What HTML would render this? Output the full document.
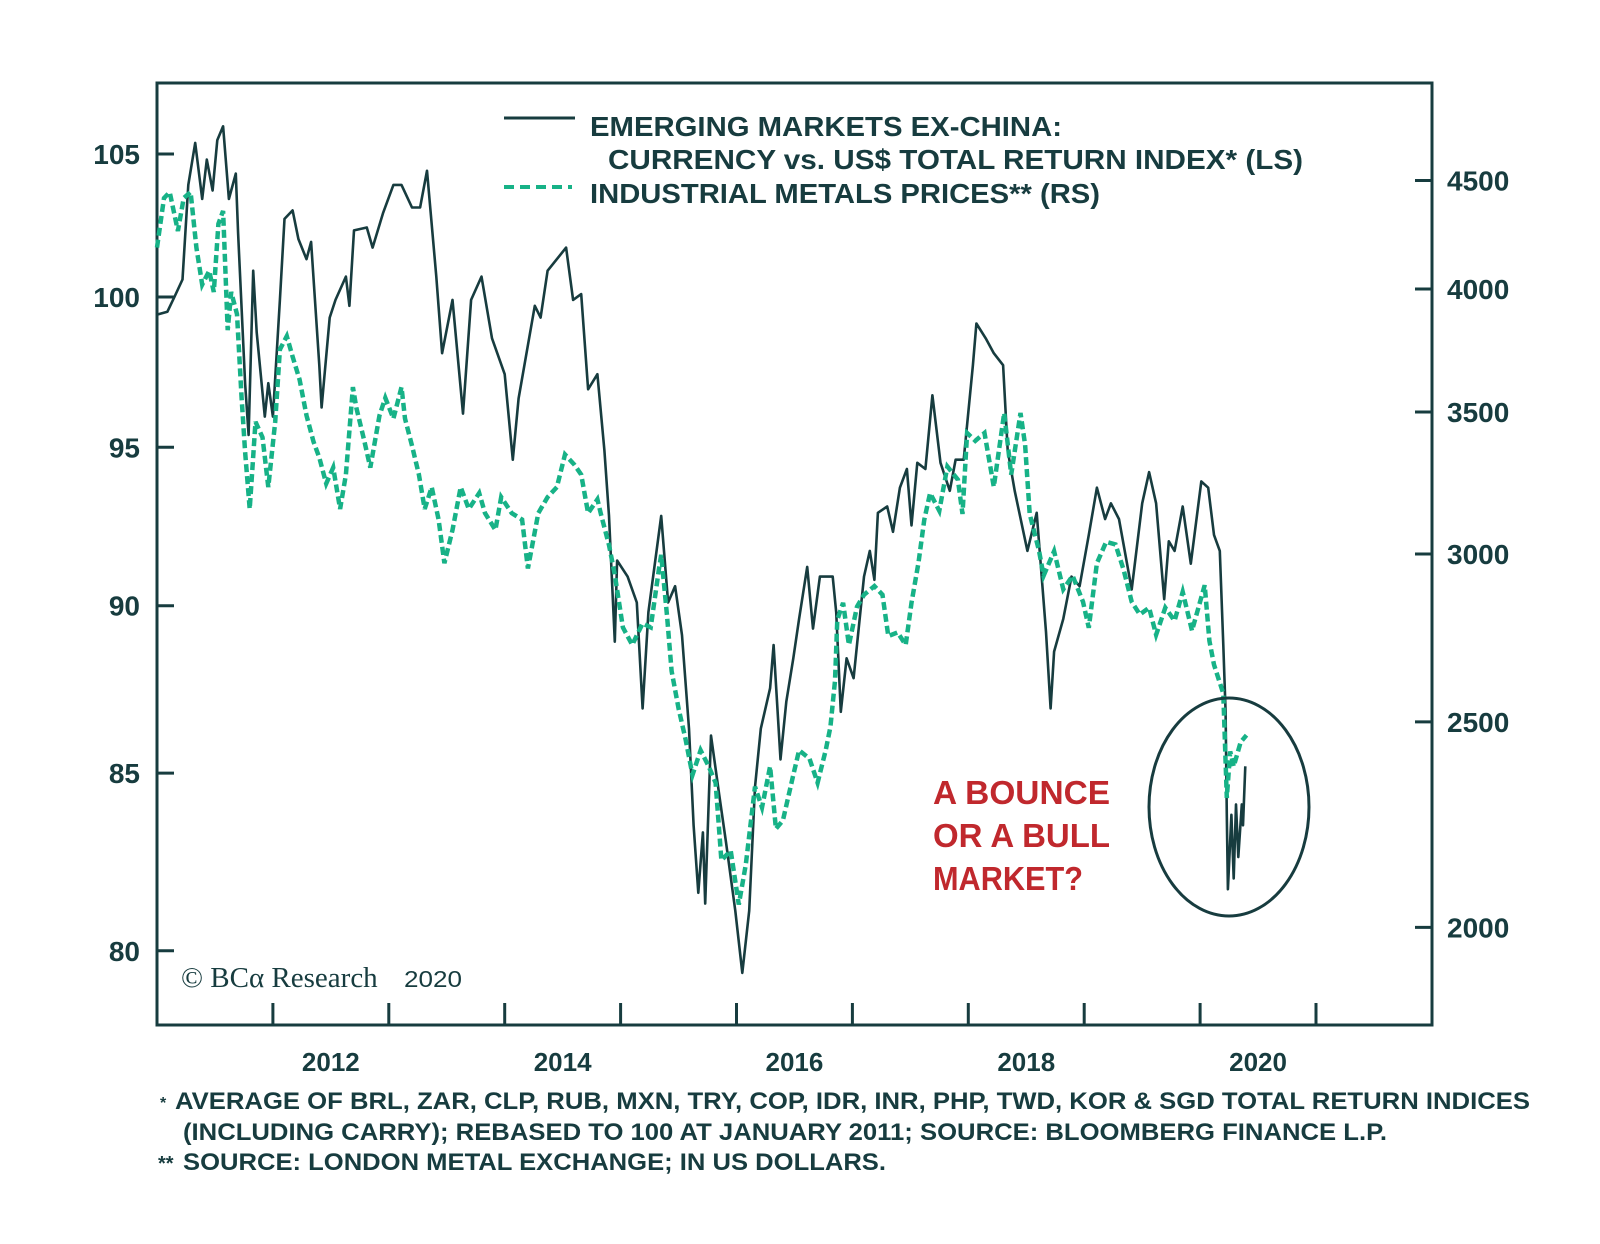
<!DOCTYPE html>
<html><head><meta charset="utf-8"><style>
html,body{margin:0;padding:0;background:#fff;width:1600px;height:1244px;overflow:hidden}
svg{display:block}
text{font-family:"Liberation Sans",sans-serif;fill:#173c3f}
</style></head><body>
<svg id="chart" width="1600" height="1244" viewBox="0 0 1600 1244" xmlns="http://www.w3.org/2000/svg">
<g id="axes"></g>
<g id="series"></g>
<g>
<line x1="504" y1="118" x2="575" y2="118" stroke="#173c3f" stroke-width="3"/>
<text x="590" y="136" font-size="28" font-weight="bold" textLength="472" lengthAdjust="spacingAndGlyphs">EMERGING MARKETS EX-CHINA:</text>
<text x="608" y="169" font-size="28" font-weight="bold" textLength="695" lengthAdjust="spacingAndGlyphs">CURRENCY vs. US$ TOTAL RETURN INDEX* (LS)</text>
<line x1="504" y1="187" x2="572" y2="187" stroke="#17b287" stroke-width="4" stroke-dasharray="10,6"/>
<text x="590" y="203" font-size="28" font-weight="bold" textLength="510" lengthAdjust="spacingAndGlyphs">INDUSTRIAL METALS PRICES** (RS)</text>
</g>
<g>
<text x="933" y="804" font-size="33" font-weight="bold" style="fill:#c0282d" textLength="177" lengthAdjust="spacingAndGlyphs">A BOUNCE</text>
<text x="933" y="847" font-size="33" font-weight="bold" style="fill:#c0282d" textLength="177" lengthAdjust="spacingAndGlyphs">OR A BULL</text>
<text x="933" y="890" font-size="33" font-weight="bold" style="fill:#c0282d" textLength="150" lengthAdjust="spacingAndGlyphs">MARKET?</text>
<ellipse cx="1229" cy="807" rx="80" ry="109" fill="none" stroke="#173c3f" stroke-width="3"/>
</g>
<g>
<text x="181" y="987" font-size="29" style="font-family:'Liberation Serif',serif">© BCα Research</text>
<text x="404" y="987" font-size="23" textLength="58" lengthAdjust="spacingAndGlyphs">2020</text>
</g>
<g font-weight="bold" font-size="24">
<text x="160" y="1108" font-size="16">*</text>
<text x="175" y="1109" font-weight="bold" font-size="24" textLength="1355" lengthAdjust="spacingAndGlyphs">AVERAGE OF BRL, ZAR, CLP, RUB, MXN, TRY, COP, IDR, INR, PHP, TWD, KOR &amp; SGD TOTAL RETURN INDICES</text>
<text x="183" y="1140" font-weight="bold" font-size="24" textLength="1204" lengthAdjust="spacingAndGlyphs">(INCLUDING CARRY); REBASED TO 100 AT JANUARY 2011; SOURCE: BLOOMBERG FINANCE L.P.</text>
<text x="158" y="1170" font-weight="bold" font-size="20">**</text>
<text x="183" y="1170" font-weight="bold" font-size="24" textLength="703" lengthAdjust="spacingAndGlyphs">SOURCE: LONDON METAL EXCHANGE; IN US DOLLARS.</text>
</g>
</svg>
<script>
const emDates=[2011.00,2011.09,2011.15,2011.22,2011.27,2011.33,2011.39,2011.43,2011.48,2011.52,2011.57,2011.62,2011.68,2011.70,2011.76,2011.79,2011.83,2011.86,2011.93,2011.96,2012.00,2012.06,2012.10,2012.17,2012.22,2012.29,2012.33,2012.40,2012.42,2012.49,2012.54,2012.63,2012.66,2012.70,2012.81,2012.86,2012.95,2013.04,2013.11,2013.20,2013.27,2013.33,2013.41,2013.46,2013.55,2013.64,2013.71,2013.80,2013.89,2014.00,2014.07,2014.12,2014.26,2014.31,2014.37,2014.53,2014.59,2014.66,2014.72,2014.80,2014.86,2014.90,2014.95,2014.97,2015.06,2015.14,2015.19,2015.24,2015.35,2015.41,2015.47,2015.53,2015.59,2015.63,2015.67,2015.71,2015.73,2015.78,2015.85,2015.91,2015.99,2016.05,2016.11,2016.16,2016.21,2016.29,2016.32,2016.38,2016.43,2016.49,2016.54,2016.61,2016.66,2016.72,2016.83,2016.86,2016.90,2016.95,2017.01,2017.10,2017.15,2017.19,2017.22,2017.30,2017.35,2017.41,2017.47,2017.51,2017.56,2017.63,2017.69,2017.76,2017.84,2017.89,2017.96,2018.04,2018.07,2018.15,2018.22,2018.30,2018.34,2018.40,2018.51,2018.59,2018.67,2018.71,2018.74,2018.82,2018.89,2018.96,2019.04,2019.11,2019.18,2019.23,2019.30,2019.41,2019.50,2019.56,2019.62,2019.69,2019.73,2019.78,2019.85,2019.92,2020.01,2020.07,2020.12,2020.17,2020.20,2020.22,2020.23,2020.24,2020.27,2020.29,2020.31,2020.33,2020.36,2020.37,2020.39];
const emValues=[99.4,99.5,100.0,100.6,103.9,105.4,103.4,104.8,103.7,105.5,106.0,103.4,104.3,102.2,97.1,95.4,100.9,98.8,96.0,97.1,96.0,99.9,102.7,103.0,102.0,101.3,101.9,97.7,96.3,99.3,99.9,100.7,99.7,102.3,102.4,101.7,102.9,103.9,103.9,103.1,103.1,104.4,100.7,98.1,99.9,96.1,99.9,100.7,98.6,97.4,94.6,96.6,99.7,99.3,100.9,101.7,99.9,100.1,96.9,97.4,94.9,92.8,88.9,91.4,90.9,90.1,86.9,89.8,92.8,90.1,90.6,89.1,86.3,83.5,81.6,83.3,81.3,86.1,84.4,83.0,81.1,79.4,81.1,84.6,86.3,87.5,88.8,85.4,87.1,88.4,89.6,91.2,89.3,90.9,90.9,89.8,86.8,88.4,87.8,90.9,91.7,90.8,92.9,93.1,92.3,93.7,94.3,92.5,94.5,94.3,96.7,94.5,93.6,94.6,94.6,97.7,99.1,98.6,98.1,97.7,94.9,93.6,91.7,92.9,89.2,86.9,88.6,89.6,90.9,90.6,92.2,93.7,92.7,93.2,92.7,90.5,93.2,94.2,93.2,90.2,92.0,91.7,93.1,91.3,93.9,93.7,92.2,91.7,88.8,86.8,83.8,81.7,83.8,82.0,84.1,82.6,84.1,83.5,85.2];
const metDates=[2011.00,2011.06,2011.11,2011.18,2011.23,2011.29,2011.34,2011.39,2011.45,2011.49,2011.53,2011.57,2011.61,2011.64,2011.69,2011.73,2011.76,2011.80,2011.85,2011.91,2011.96,2012.02,2012.06,2012.12,2012.17,2012.23,2012.29,2012.35,2012.40,2012.46,2012.52,2012.58,2012.63,2012.69,2012.72,2012.79,2012.84,2012.92,2012.97,2013.04,2013.11,2013.14,2013.20,2013.26,2013.31,2013.37,2013.43,2013.48,2013.55,2013.62,2013.69,2013.78,2013.83,2013.92,2013.97,2014.06,2014.15,2014.20,2014.29,2014.37,2014.45,2014.52,2014.60,2014.66,2014.72,2014.80,2014.83,2014.90,2014.95,2015.02,2015.10,2015.19,2015.26,2015.33,2015.35,2015.40,2015.44,2015.50,2015.56,2015.62,2015.69,2015.76,2015.82,2015.87,2015.95,2016.02,2016.08,2016.16,2016.22,2016.29,2016.34,2016.40,2016.49,2016.54,2016.63,2016.70,2016.77,2016.81,2016.85,2016.87,2016.92,2016.97,2017.04,2017.10,2017.19,2017.26,2017.31,2017.39,2017.46,2017.51,2017.57,2017.62,2017.67,2017.75,2017.82,2017.91,2017.95,2017.99,2018.06,2018.14,2018.22,2018.31,2018.37,2018.45,2018.49,2018.53,2018.61,2018.65,2018.74,2018.82,2018.90,2018.99,2019.04,2019.11,2019.19,2019.27,2019.34,2019.41,2019.48,2019.56,2019.62,2019.70,2019.78,2019.85,2019.93,2020.04,2020.08,2020.12,2020.20,2020.23,2020.26,2020.29,2020.35,2020.40];
const metValues=[4184,4415,4444,4260,4415,4444,4184,4019,4080,3987,4293,4354,3825,3987,3892,3554,3352,3150,3463,3405,3226,3463,3746,3800,3717,3625,3487,3389,3331,3238,3295,3150,3270,3596,3517,3389,3295,3487,3554,3475,3596,3475,3374,3270,3150,3226,3114,2970,3079,3226,3150,3205,3136,3079,3191,3136,3114,2953,3136,3191,3226,3342,3306,3270,3136,3183,3133,3029,2933,2770,2718,2782,2770,2948,2997,2806,2642,2536,2454,2360,2424,2382,2340,2151,2174,2050,2141,2330,2278,2382,2226,2246,2360,2424,2402,2340,2424,2486,2614,2793,2845,2718,2833,2870,2897,2870,2744,2755,2718,2845,2972,3114,3205,3144,3299,3252,3133,3421,3392,3421,3227,3496,3270,3496,3378,3133,3011,2930,3009,2887,2930,2848,2769,2970,3040,3031,2949,2848,2809,2830,2748,2830,2790,2879,2760,2900,2730,2660,2578,2302,2421,2382,2446,2464];
const leftTicks=[80,85,90,95,100,105];
const rightTicks=[2000,2500,3000,3500,4000,4500];
const yearTicks=[2012,2013,2014,2015,2016,2017,2018,2019,2020,2021];
const yearLabels=[2012,2014,2016,2018,2020];

const NS="http://www.w3.org/2000/svg";
const L=157,R=1432,T=83,B=1025,DARK="#173c3f",GREEN="#17b287";
const xs=t=>L+(t-2011)*115.9;
const yl=v=>297-2930*Math.log(v/100);
const yr=v=>289-921*Math.log(v/4000);
function mk(tag,attrs,parent){const e=document.createElementNS(NS,tag);for(const k in attrs)e.setAttribute(k,attrs[k]);parent.appendChild(e);return e;}
const axes=document.getElementById('axes');
const frame=mk('rect',{x:L,y:T,width:R-L,height:B-T,fill:'none',stroke:DARK,'stroke-width':3},axes);


leftTicks.forEach(v=>{
  const y=yl(v);
  const tk=mk('line',{x1:L,x2:L+17,y1:y,y2:y,stroke:DARK,'stroke-width':3},axes);
  
  
  const tx=mk('text',{x:140,y:y+10,'text-anchor':'end','font-size':28,'font-weight':'bold'},axes);
  tx.textContent=v;
  
  
});
rightTicks.forEach(v=>{
  const y=yr(v);
  const tk=mk('line',{x1:R-17,x2:R,y1:y,y2:y,stroke:DARK,'stroke-width':3},axes);
  
  
  const tx=mk('text',{x:1447,y:y+10,'font-size':28,'font-weight':'bold'},axes);
  tx.textContent=v;
  
  
});
yearTicks.forEach(yv=>{
  const x=xs(yv);
  const tk=mk('line',{x1:x,x2:x,y1:B,y2:B-22,stroke:DARK,'stroke-width':3},axes);
  
  
});
yearLabels.forEach(yv=>{
  const tx=mk('text',{x:xs(yv+0.5),y:1071,'text-anchor':'middle','font-size':26,'font-weight':'bold'},axes);
  tx.textContent=yv;
  
  
});
const series=document.getElementById('series');
const emPts=emDates.map((t,i)=>xs(t).toFixed(1)+','+yl(emValues[i]).toFixed(1)).join(' ');
const metPts=metDates.map((t,i)=>xs(t).toFixed(1)+','+yr(metValues[i]).toFixed(1)).join(' ');
const em=mk('polyline',{points:emPts,fill:'none',stroke:DARK,'stroke-width':2.6,'stroke-linejoin':'round'},series);


const met=mk('polyline',{points:metPts,fill:'none',stroke:GREEN,'stroke-width':4.5,'stroke-dasharray':'8,4'},series);


</script>
</body></html>
